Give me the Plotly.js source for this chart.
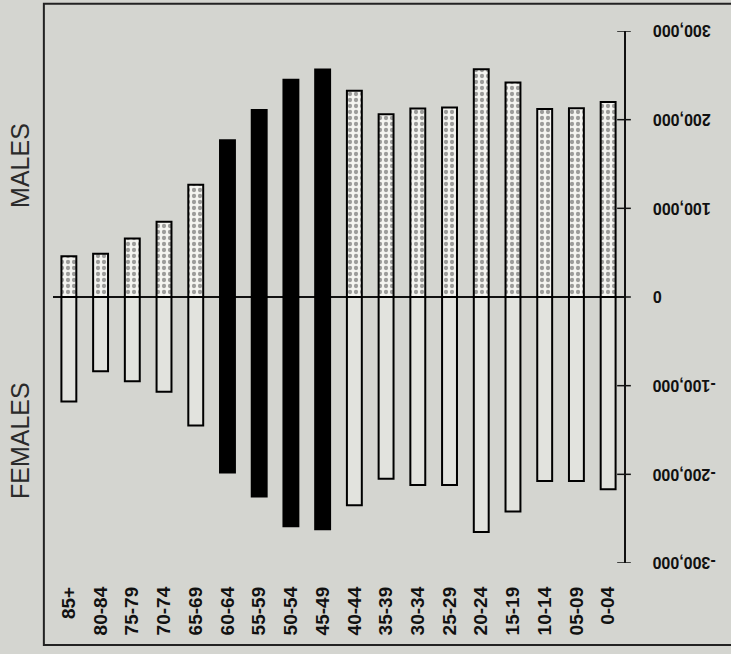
<!DOCTYPE html>
<html>
<head>
<meta charset="utf-8">
<script src="https://cdn.plot.ly/plotly-3.0.1.min.js"></script>
<style>
html,body{margin:0;padding:0;background:#d4d5d0;}
#chart{width:731px;height:654px;}
</style>
</head>
<body>
<div id="chart"></div>
<script>
const ageGroups = ["85+","80-84","75-79","70-74","65-69","60-64","55-59","50-54","45-49","40-44","35-39","30-34","25-29","20-24","15-19","10-14","05-09","0-04"];
const males   = [46000, 48700, 66000, 85000, 126500, 176700, 211000, 245000, 256700, 232500, 206000, 212500, 213700, 257000, 242000, 212000, 213000, 220000];
const females = [117800, 83800, 95000, 107000, 145000, 197800, 225000, 258600, 262000, 235000, 205000, 212000, 212000, 265000, 242000, 207600, 207600, 216700];
const babyBoom = ["60-64","55-59","50-54","45-49"];
const tickValues = [300000, 200000, 100000, 0, -100000, -200000, -300000];
const tickLabels = ["300,000","200,000","100,000","0","-100,000","-200,000","-300,000"];

const isBoom = ageGroups.map(g => babyBoom.includes(g));
const maleFill = isBoom.map(b => b ? "#000000" : "#f4f4f0");
const maleShape = isBoom.map(b => b ? "" : ".");
const femaleFill = isBoom.map(b => b ? "#000000" : "#e2e3de");

const FONT = "Liberation Sans, Arial, sans-serif";

const traces = [
  {
    type: "bar", x: ageGroups, y: males, name: "Males",
    marker: {
      color: maleFill,
      line: {color: "#000", width: 2},
      pattern: {shape: maleShape, fgcolor: "#000", bgcolor: maleFill, size: 6, solidity: 0.4, fillmode: "overlay"}
    },
    hoverinfo: "x+y"
  },
  {
    type: "bar", x: ageGroups, y: females.map(v => -v), name: "Females",
    marker: {color: femaleFill, line: {color: "#000", width: 2}},
    hoverinfo: "x+y"
  }
];

const tickAnnotations = tickValues.map((v, i) => ({
  text: "<b>" + tickLabels[i] + "</b>", xref: "paper", yref: "y", x: 1.047, y: v,
  xanchor: "left", yanchor: "middle", showarrow: false, textangle: 180,
  font: {size: 16, family: FONT, color: "#111"}
}));

// cross-shaped tick marks on the right-hand axis (decoration built from tick values)
const tickShapes = tickValues.map(v => ({
  type: "line", xref: "paper", yref: "y", x0: 0.988, x1: 1.012, y0: v, y1: v,
  line: {color: "#111", width: 1.5}
}));

const layout = {
  width: 731, height: 654,
  paper_bgcolor: "#d4d5d0", plot_bgcolor: "rgba(0,0,0,0)",
  margin: {l: 53, r: 107, t: 31, b: 91},
  barmode: "overlay",
  bargap: 0.53,
  showlegend: false,
  font: {family: FONT, color: "#111"},
  xaxis: {
    type: "category", range: [-0.5, 17.5],
    showgrid: false, zeroline: false, showline: false,
    ticks: "", tickangle: -90,
    tickfont: {size: 19, family: FONT, weight: "bold", color: "#111"},
    ticklabelstandoff: 19, fixedrange: true
  },
  yaxis: {
    range: [-300000, 300000], side: "right",
    showgrid: false, zeroline: true, zerolinecolor: "#111", zerolinewidth: 1.5,
    showline: true, linecolor: "#111", linewidth: 1.5,
    ticks: "", tickvals: tickValues, showticklabels: false, fixedrange: true
  },
  shapes: [
    {type: "path", xref: "paper", yref: "paper",
     path: "M 1.25 1.051 L -0.016 1.051 L -0.016 -0.154 L 1.25 -0.154",
     line: {color: "#222", width: 2}}
  ].concat(tickShapes),
  annotations: [
    {text: "MALES", xref: "paper", yref: "paper", x: -0.058, y: 0.748, xanchor: "center", yanchor: "middle",
     showarrow: false, textangle: -90, font: {size: 25, family: FONT, color: "#2a2a2a"}},
    {text: "FEMALES", xref: "paper", yref: "paper", x: -0.058, y: 0.231, xanchor: "center", yanchor: "middle",
     showarrow: false, textangle: -90, font: {size: 25, family: FONT, color: "#2a2a2a"}}
  ].concat(tickAnnotations)
};

Plotly.newPlot("chart", traces, layout, {displayModeBar: false, staticPlot: true});
</script>
</body>
</html>
